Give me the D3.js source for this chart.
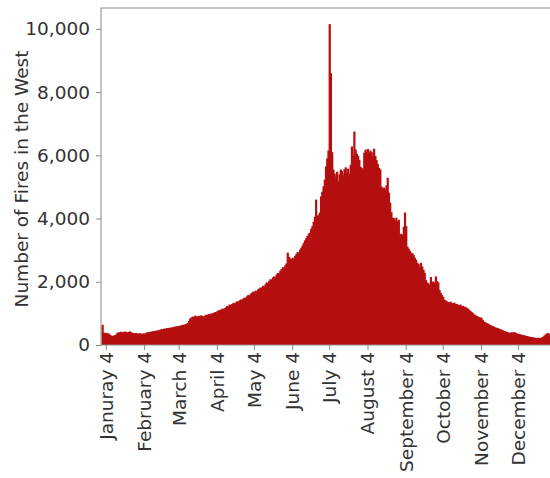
<!DOCTYPE html>
<html>
<head>
<meta charset="utf-8">
<script src="https://cdn.jsdelivr.net/npm/d3@7"></script>
<style>
  body { margin: 0; background: #fff; }
  svg { display: block; font-family: "DejaVu Sans", sans-serif; }
</style>
</head>
<body>
<div id="chart"></div>
<script>
// daily fire counts, one array per month (non-leap year)
const jan = [640, 390, 375, 385, 370, 360, 320, 300, 285, 295, 310, 330, 380, 405, 395, 420, 410, 400, 425, 415, 395, 410, 430, 405, 390, 375, 365, 380, 370, 355, 375]
const feb = [360, 350, 370, 345, 380, 395, 410, 400, 425, 415, 440, 430, 455, 445, 470, 460, 490, 505, 495, 520, 510, 535, 525, 545, 540, 560, 550, 575]
const mar = [580, 595, 570, 610, 600, 625, 640, 630, 655, 670, 700, 760, 840, 870, 900, 880, 930, 910, 890, 920, 900, 940, 915, 895, 930, 960, 945, 980, 965, 1000, 990]
const apr = [1010, 1040, 1030, 1070, 1100, 1090, 1120, 1150, 1130, 1170, 1190, 1240, 1220, 1280, 1260, 1300, 1330, 1310, 1350, 1380, 1370, 1410, 1440, 1420, 1470, 1500, 1490, 1540, 1580, 1560]
const may = [1620, 1650, 1690, 1670, 1720, 1700, 1760, 1790, 1820, 1810, 1870, 1850, 1920, 1980, 1950, 2030, 2080, 2060, 2140, 2170, 2150, 2230, 2280, 2260, 2350, 2400, 2460, 2440, 2520, 2580, 2920]
const jun = [2790, 2740, 2710, 2760, 2700, 2820, 2880, 2940, 2910, 3020, 3080, 3150, 3230, 3310, 3380, 3450, 3520, 3550, 3680, 3760, 3900, 4060, 4600, 4080, 4120, 4190, 4700, 4850, 5020, 5230]
const jul = [5650, 5900, 6150, 10150, 8600, 6100, 5550, 5420, 5330, 5480, 5170, 5400, 5550, 5500, 5380, 5560, 5620, 5450, 5580, 5400, 5700, 6280, 6000, 6750, 6180, 6050, 5980, 5860, 5640, 5600, 5550]
const aug = [6080, 6180, 6120, 6200, 6090, 6150, 6100, 5960, 6210, 5980, 5850, 5720, 5600, 5550, 5010, 4950, 4980, 4910, 5050, 5290, 4820, 4500, 4200, 4030, 4010, 3950, 4030, 3900, 3960, 3490, 3520]
const sep = [3470, 3740, 4190, 3760, 3110, 3050, 2980, 2920, 2900, 2850, 2760, 2700, 2600, 2560, 2470, 2600, 2480, 2380, 2280, 2060, 1980, 1950, 1900, 2150, 1990, 2010, 1960, 2170, 2020, 1980]
const oct = [1740, 1650, 1580, 1520, 1430, 1410, 1380, 1360, 1350, 1370, 1330, 1310, 1340, 1290, 1300, 1270, 1250, 1280, 1230, 1240, 1200, 1210, 1170, 1150, 1110, 1080, 1040, 1010, 970, 950, 920]
const nov = [900, 880, 870, 860, 790, 740, 720, 700, 680, 650, 640, 610, 600, 580, 560, 545, 540, 520, 500, 490, 470, 450, 440, 420, 410, 395, 380, 400, 390, 410]
const dec = [395, 380, 360, 350, 340, 330, 320, 315, 300, 290, 285, 270, 260, 250, 245, 240, 230, 225, 220, 230, 215, 225, 240, 260, 300, 330, 360, 380, 340, 300, 270]

const tickLabels = ['Januray 4', 'February 4', 'March 4', 'April 4', 'May 4', 'June 4',
  'July 4', 'August 4', 'September 4', 'October 4', 'November 4', 'December 4']
const yTicks = [0, 2000, 4000, 6000, 8000, 10000]

const months = [jan, feb, mar, apr, may, jun, jul, aug, sep, oct, nov, dec]
const fires = months.flat()

// day index of the 4th of each month
const tickDays = []
let start = 0
months.forEach(m => {
  tickDays.push(start + 3)
  start += m.length
})

const width = 550
const height = 478
const margin = { top: 8, right: -2, bottom: 133, left: 101 }

const svg = d3.select('#chart')
  .append('svg')
  .attr('width', width)
  .attr('height', height)

const x = d3.scaleLinear()
  .domain([0, fires.length])
  .range([margin.left + 0.5, width - margin.right])

const y = d3.scaleLinear()
  .domain([0, 10660])
  .range([height - margin.bottom, margin.top])

// bars overlap a little so no light seams show between days
svg.append('g')
  .selectAll('rect')
  .data(fires)
  .enter()
  .append('rect')
  .attr('x', (d, i) => x(i))
  .attr('width', (d, i) => x(i + 1) - x(i) + 1)
  .attr('y', d => y(d))
  .attr('height', d => y(0) - y(d))
  .attr('fill', '#b50f0f')

// frame
svg.append('rect')
  .attr('x', margin.left)
  .attr('y', margin.top)
  .attr('width', width - margin.right - margin.left)
  .attr('height', y(0) - margin.top)
  .attr('fill', 'none')
  .attr('stroke', '#8a8a8a')
  .attr('stroke-width', 1)

svg.append('g')
  .attr('transform', `translate(${margin.left},0)`)
  .call(d3.axisLeft(y).tickValues(yTicks).tickFormat(d3.format(',')).tickSize(5).tickPadding(6))

const xAxis = svg.append('g')
  .attr('transform', `translate(0,${y(0)})`)
  .call(d3.axisBottom(x).tickValues(tickDays.map(d => d + 0.5)).tickFormat((d, i) => tickLabels[i]).tickSize(5))

xAxis.selectAll('text')
  .attr('transform', 'rotate(-90)')
  .attr('x', -7)
  .attr('y', 0)
  .attr('dy', '0.35em')
  .style('text-anchor', 'end')

svg.selectAll('.domain').remove()
svg.selectAll('.tick line').attr('stroke', '#8a8a8a')
svg.selectAll('.tick text')
  .attr('fill', '#333')
  .style('font-size', '18.5px')
  .style('font-family', '"DejaVu Sans", sans-serif')

svg.append('text')
  .attr('transform', 'translate(28,179) rotate(-90)')
  .attr('text-anchor', 'middle')
  .attr('fill', '#333')
  .style('font-size', '18.5px')
  .text('Number of Fires in the West')
</script>
</body>
</html>
